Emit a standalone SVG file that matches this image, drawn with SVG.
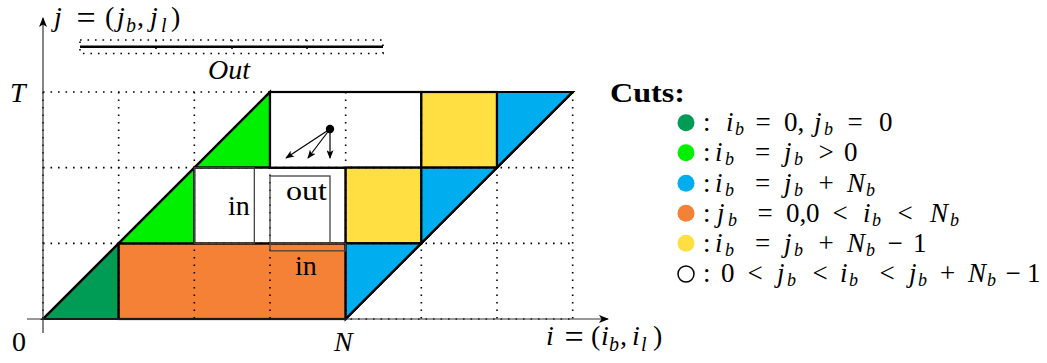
<svg xmlns="http://www.w3.org/2000/svg" width="1047" height="363" viewBox="0 0 1047 363">
<style>
text{font-family:"Liberation Serif","Times New Roman",serif;fill:#000}
.m{font-size:28px}
.lg{font-size:27px}
.it{font-style:italic}
.sb{font-size:20px;font-style:italic}
.sl{font-size:18px;font-style:italic}
.opm{font-size:34px}
.dot{stroke:#000;stroke-width:1.6;stroke-dasharray:1.6 5.9;fill:none}
.ol{stroke:#000;stroke-width:2.2;stroke-linejoin:miter}
.box{fill:none;stroke:#444;stroke-width:1.3}
.ax{stroke:#333;stroke-width:1.2;fill:none}
.ar{stroke:#000;stroke-width:1.2;fill:none}
</style>
<defs>
<marker id="ah" viewBox="0 0 10 8" refX="9" refY="4" markerWidth="10" markerHeight="8" markerUnits="userSpaceOnUse" orient="auto"><path d="M0,0 L10,4 L0,8 L2.5,4 z" fill="#000"/></marker>
<marker id="ahs" viewBox="0 0 10 8" refX="9" refY="4" markerWidth="9" markerHeight="7" markerUnits="userSpaceOnUse" orient="auto"><path d="M0,0 L10,4 L0,8 L2.5,4 z" fill="#000"/></marker>
</defs>

<g id="cells">
<g id="cell-darkgreen"><polygon class="ol" fill="#009B55" points="43,319 118.67,243.33 118.67,319"/></g>
<g id="cell-orange"><rect class="ol" fill="#F58137" x="118.67" y="243.33" width="227" height="75.67"/></g>
<g id="cell-green1"><polygon class="ol" fill="#00F000" points="118.67,243.33 194.33,167.67 194.33,243.33"/></g>
<g id="cell-green2"><polygon class="ol" fill="#00F000" points="194.33,167.67 270,92 270,167.67"/></g>
<g id="cell-white-mid"><rect class="ol" fill="#fff" x="194.33" y="167.67" width="151.33" height="75.67"/></g>
<g id="cell-white-top"><rect class="ol" fill="#fff" x="270" y="92" width="151.33" height="75.67"/></g>
<g id="cell-yellow1"><rect class="ol" fill="#FFDF42" x="345.67" y="167.67" width="75.67" height="75.67"/></g>
<g id="cell-yellow2"><rect class="ol" fill="#FFDF42" x="421.33" y="92" width="75.67" height="75.67"/></g>
<g id="cell-blue1"><polygon class="ol" fill="#00ADEF" points="345.67,319 345.67,243.33 421.33,243.33"/></g>
<g id="cell-blue2"><polygon class="ol" fill="#00ADEF" points="421.33,243.33 421.33,167.67 497,167.67"/></g>
<g id="cell-blue3"><polygon class="ol" fill="#00ADEF" points="497,167.67 497,92 572.67,92"/></g>
</g>

<g id="grid">
<path class="dot" d="M43,92V319 M118.67,92V319 M194.33,92V319 M270,92V319 M345.67,92V319 M421.33,92V319 M497,92V319 M572.67,92V319"/>
<path class="dot" d="M43,92H572.67 M43,167.67H572.67 M43,243.33H572.67 M43,319H572.67"/>
</g>

<g id="outline">
<path class="ol" fill="none" d="M43,319 L345.67,319 L572.67,92 L270,92 Z"/>
</g>

<g id="node-in-box"><rect class="box" x="194.33" y="167.67" width="60" height="75.67"/><text class="m" x="228" y="215">in</text></g>
<g id="node-out-box"><rect class="box" x="270" y="176" width="60" height="67.33"/><text class="m" x="286" y="200" textLength="41" lengthAdjust="spacingAndGlyphs">out</text></g>
<g id="node-in-low"><rect class="box" x="270" y="243.33" width="75.67" height="7.5"/><text class="m" x="295" y="275">in</text></g>

<g id="out-bar">
<rect class="dot" x="80" y="40" width="303" height="13.5"/>
<path class="dot" d="M156,40V53.5 M232,40V53.5 M307,40V53.5"/>
<line x1="80" y1="46.7" x2="383" y2="46.7" stroke="#000" stroke-width="2.4"/>
<text class="m it" x="208" y="79">Out</text>
</g>

<g id="connectors">
<line class="ax" x1="43" y1="333" x2="43" y2="18" marker-end="url(#ah)"/>
<line class="ax" x1="27" y1="319" x2="608" y2="319" marker-end="url(#ah)"/>
<circle cx="330" cy="129" r="4.2" fill="#000"/>
<line class="ar" x1="330" y1="129" x2="286" y2="158" marker-end="url(#ahs)"/>
<line class="ar" x1="330" y1="129" x2="308" y2="158" marker-end="url(#ahs)"/>
<line class="ar" x1="330" y1="129" x2="330" y2="158" marker-end="url(#ahs)"/>
</g>

<g id="axis-labels">
<text class="m" y="26"><tspan class="it" x="54">j</tspan><tspan class="opm" x="76.4" dy="3">=</tspan><tspan x="105" dy="-3">(</tspan><tspan class="it" x="117">j</tspan><tspan class="sb" x="126" dy="6">b</tspan><tspan x="137" dy="-6">,</tspan><tspan class="it" x="150">j</tspan><tspan class="sb" x="161" dy="6">l</tspan><tspan x="171" dy="-6">)</tspan></text>
<text class="m" y="345"><tspan class="it" x="546">i</tspan><tspan class="opm" x="564.4" dy="3">=</tspan><tspan x="591" dy="-3">(</tspan><tspan class="it" x="601">i</tspan><tspan class="sb" x="609" dy="6">b</tspan><tspan x="620" dy="-6">,</tspan><tspan class="it" x="632">i</tspan><tspan class="sb" x="641" dy="6">l</tspan><tspan x="653" dy="-6">)</tspan></text>
<text class="m it" x="10" y="102">T</text>
<text class="m" x="12" y="351">0</text>
<text class="m it" x="334" y="351">N</text>
</g>

<g id="legend">
<text x="610" y="102" font-size="27" font-weight="bold" textLength="75" lengthAdjust="spacingAndGlyphs">Cuts:</text>
<g id="leg1"><circle cx="686" cy="122.7" r="8.5" fill="#009B55"/><text class="lg" x="703" y="131">:</text>
<text class="lg" y="131"><tspan class="it" x="726">i</tspan><tspan class="sl" x="735" dy="4">b</tspan><tspan x="755.4" dy="-4">=</tspan><tspan x="784">0,</tspan><tspan class="it" x="814">j</tspan><tspan class="sl" x="824" dy="4">b</tspan><tspan x="847.4" dy="-4">=</tspan><tspan x="879">0</tspan></text></g>
<g id="leg2"><circle cx="686" cy="152.7" r="8.5" fill="#00F000"/><text class="lg" x="703" y="161">:</text>
<text class="lg" y="161"><tspan class="it" x="715">i</tspan><tspan class="sl" x="725" dy="4">b</tspan><tspan x="754.9" dy="-4">=</tspan><tspan class="it" x="784">j</tspan><tspan class="sl" x="794" dy="4">b</tspan><tspan x="818.4" dy="-4">&gt;</tspan><tspan x="844">0</tspan></text></g>
<g id="leg3"><circle cx="686" cy="183.3" r="8.5" fill="#00ADEF"/><text class="lg" x="703" y="191.5">:</text>
<text class="lg" y="191.5"><tspan class="it" x="715">i</tspan><tspan class="sl" x="725" dy="4">b</tspan><tspan x="754.9" dy="-4">=</tspan><tspan class="it" x="784">j</tspan><tspan class="sl" x="794" dy="4">b</tspan><tspan x="818.4" dy="-4">+</tspan><tspan class="it" x="847">N</tspan><tspan class="sl" x="866" dy="4">b</tspan></text></g>
<g id="leg4"><circle cx="686" cy="213.3" r="8.5" fill="#F58137"/><text class="lg" x="703" y="221.5">:</text>
<text class="lg" y="221.5"><tspan class="it" x="717">j</tspan><tspan class="sl" x="728" dy="4">b</tspan><tspan x="757.4" dy="-4">=</tspan><tspan x="786">0,</tspan><tspan x="806">0</tspan><tspan x="832.4">&lt;</tspan><tspan class="it" x="863">i</tspan><tspan class="sl" x="872" dy="4">b</tspan><tspan x="897.4" dy="-4">&lt;</tspan><tspan class="it" x="930">N</tspan><tspan class="sl" x="950" dy="4">b</tspan></text></g>
<g id="leg5"><circle cx="686" cy="243.3" r="8.5" fill="#FFDF42"/><text class="lg" x="703" y="251.5">:</text>
<text class="lg" y="251.5"><tspan class="it" x="715">i</tspan><tspan class="sl" x="725" dy="4">b</tspan><tspan x="754.9" dy="-4">=</tspan><tspan class="it" x="784">j</tspan><tspan class="sl" x="794" dy="4">b</tspan><tspan x="818.4" dy="-4">+</tspan><tspan class="it" x="847">N</tspan><tspan class="sl" x="866" dy="4">b</tspan><tspan x="887.4" dy="-4">−</tspan><tspan x="913">1</tspan></text></g>
<g id="leg6"><circle cx="686" cy="274" r="8" fill="#fff" stroke="#000" stroke-width="1.5"/><text class="lg" x="703" y="282">:</text>
<text class="lg" y="282"><tspan x="721">0</tspan><tspan x="747.4">&lt;</tspan><tspan class="it" x="777">j</tspan><tspan class="sl" x="787" dy="4">b</tspan><tspan x="812.4" dy="-4">&lt;</tspan><tspan class="it" x="840">i</tspan><tspan class="sl" x="849" dy="4">b</tspan><tspan x="879.4" dy="-4">&lt;</tspan><tspan class="it" x="909">j</tspan><tspan class="sl" x="918" dy="4">b</tspan><tspan x="939.9" dy="-4">+</tspan><tspan class="it" x="968">N</tspan><tspan class="sl" x="987" dy="4">b</tspan><tspan x="1005.4" dy="-4">−</tspan><tspan x="1027">1</tspan></text></g>
</g>
</svg>
